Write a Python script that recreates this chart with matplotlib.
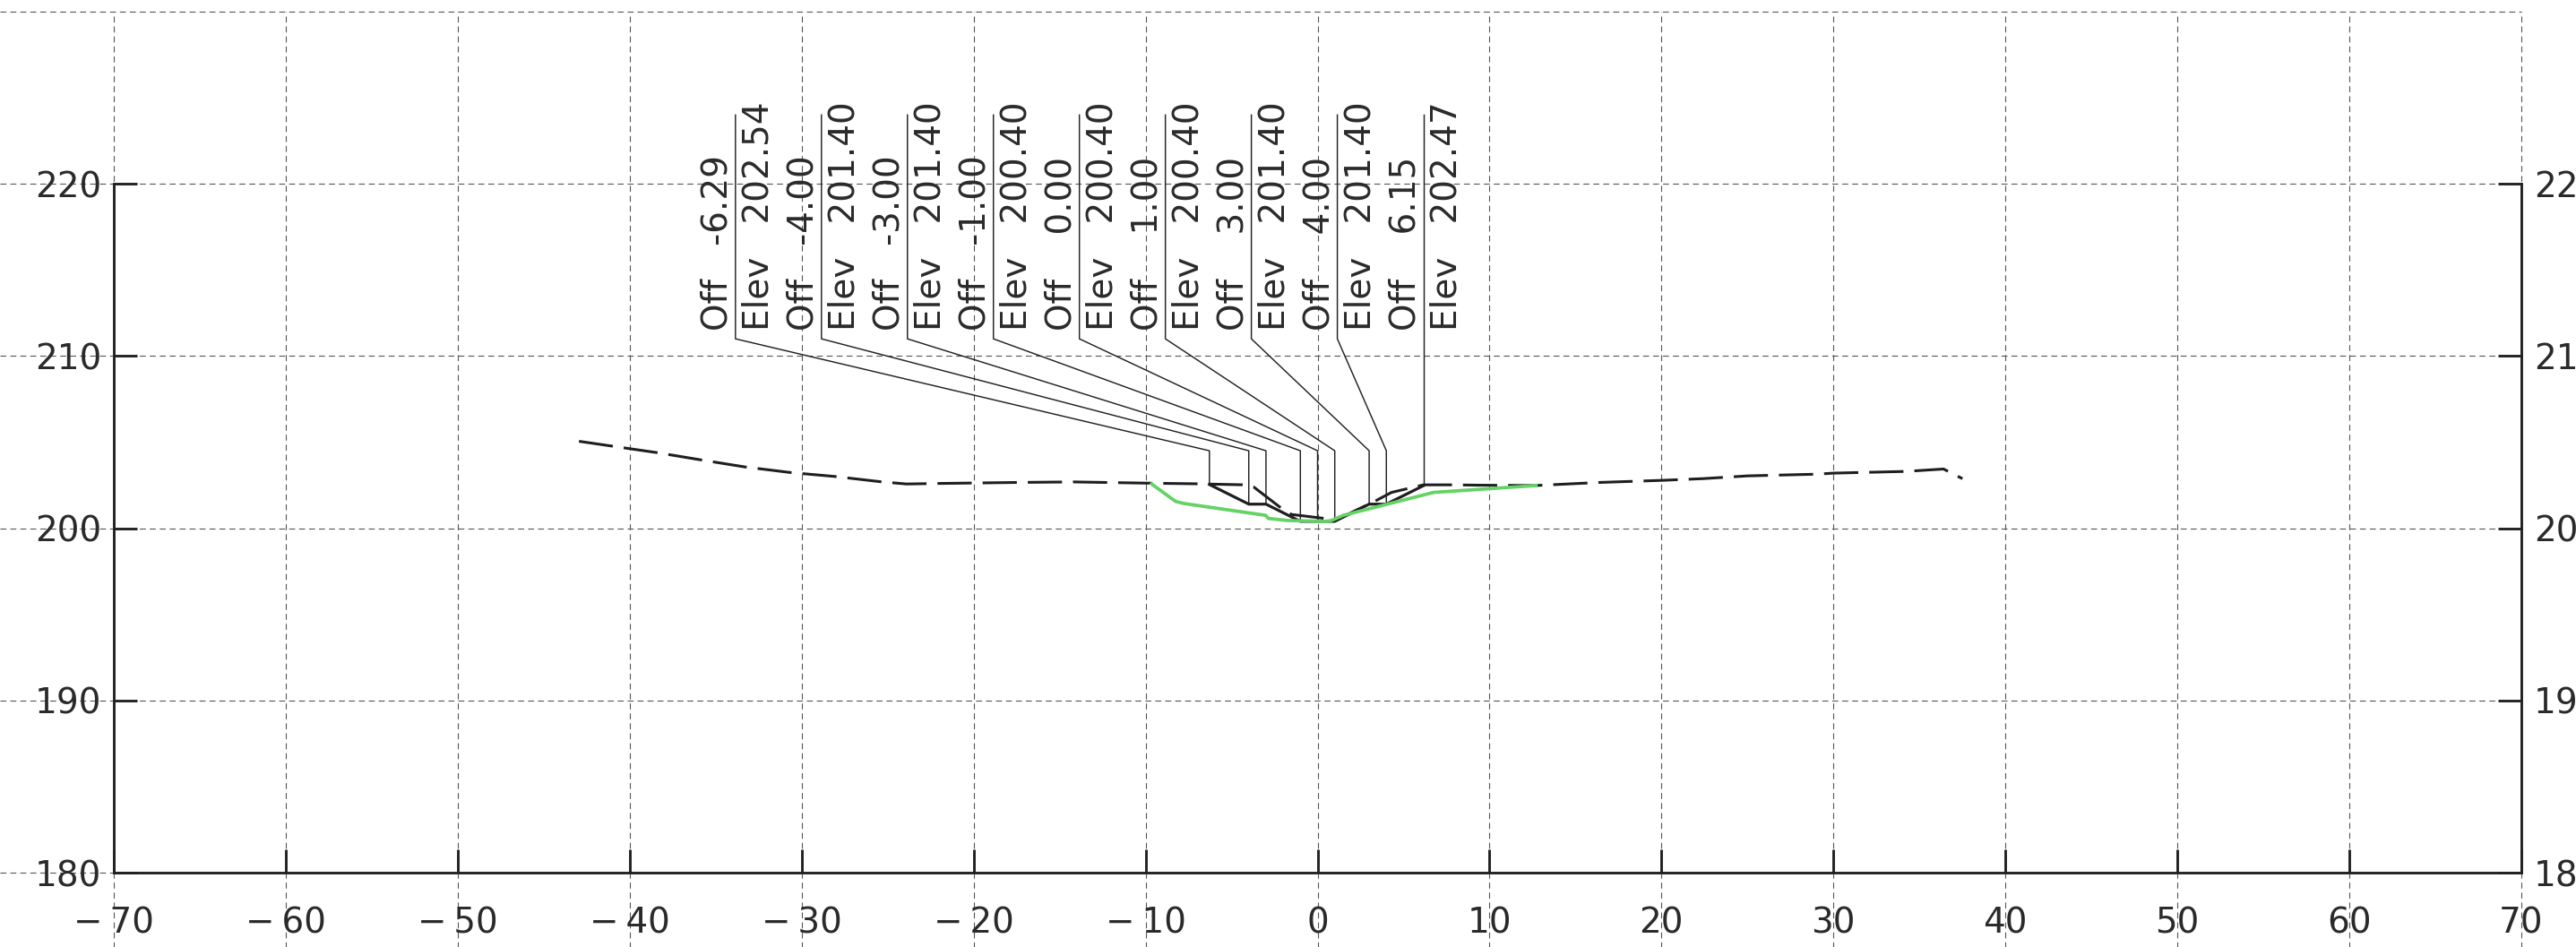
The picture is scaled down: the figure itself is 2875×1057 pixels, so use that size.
import matplotlib
matplotlib.use("Agg")
import matplotlib.pyplot as plt

plt.rcParams['font.family'] = ['DejaVu Sans']

# ---- data ----
offsets = [-6.29, -4.00, -3.00, -1.00, 0.00, 1.00, 3.00, 4.00, 6.15]
elevs = [202.54, 201.40, 201.40, 200.40, 200.40, 200.40, 201.40, 201.40, 202.47]

ground_x = [-42.95, -40.0, -38.4, -35.8, -33.3, -30.6, -28.0, -25.4, -23.9, -22.1,
            -17.4, -14.2, -10.0, -7.0, -4.2, -3.72, -2.09, -1.51, 0.4, 1.2, 3.2,
            4.3, 5.23, 6.16, 7.8, 9.4, 12.67, 16.4, 20.0, 22.4, 25.0, 29.0, 30.0,
            34.2, 36.4, 37.5]
ground_y = [205.05, 204.62, 204.39, 203.96, 203.56, 203.23, 203.0, 202.7, 202.57, 202.6,
            202.66, 202.69, 202.62, 202.58, 202.52, 202.4, 201.15, 200.8, 200.57, 200.55, 201.5,
            202.08, 202.3, 202.52, 202.52, 202.5, 202.48, 202.66, 202.78, 202.88, 203.04, 203.14, 203.2,
            203.3, 203.44, 202.88]

green_x = [-9.65, -8.26, -7.79, -3.02, -2.86, -1.74, 0.47, 0.81, 1.5, 6.74, 12.7]
green_y = [202.57, 201.56, 201.44, 200.75, 200.57, 200.45, 200.4, 200.45, 200.75, 202.08, 202.48]

x_ticks = [-70, -60, -50, -40, -30, -20, -10, 0, 10, 20, 30, 40, 50, 60, 70]
y_ticks = [180, 190, 200, 210, 220]
y_grid = [180, 190, 200, 210, 220, 230]

# ---- figure ----
W, H = 2875, 1057
fig = plt.figure(figsize=(W / 100, H / 100), dpi=100)
ax = fig.add_axes([127 / W, (H - 974) / H, 2687 / W, 961 / H])
ax.set_xlim(-70, 70)
ax.set_ylim(180, 230)

grid_kw = dict(color='#555555', lw=0.8, linestyle=(0, (6, 4)), clip_on=False, zorder=1)
for yv in y_grid:
    ax.axhline(yv, xmin=-127 / 2687, xmax=1.0, **grid_kw)
for xv in x_ticks:
    ax.axvline(xv, ymin=-84 / 961, ymax=1.0, **grid_kw)

# spines
for s in ['left', 'right']:
    ax.spines[s].set_bounds(180, 220)
    ax.spines[s].set_linewidth(2.1)
    ax.spines[s].set_color('#222222')
ax.spines['bottom'].set_linewidth(2.1)
ax.spines['bottom'].set_color('#222222')
ax.spines['top'].set_visible(False)
for s in ax.spines.values():
    s.set_zorder(3)

ax.set_xticks(x_ticks)
ax.set_xticklabels([("\u2212\u2009%d" % abs(v)) if v < 0 else "%d" % v for v in x_ticks])
ax.set_yticks(y_ticks)
ax.set_yticklabels([str(v) for v in y_ticks])
ax.tick_params(axis='x', direction='in', length=19, width=2.1, color='#222222',
               labelsize=28, labelcolor='#2a2a2a', pad=27)
ax.tick_params(axis='y', direction='in', length=19, width=2.1, color='#222222',
               labelsize=28, labelcolor='#2a2a2a', pad=10,
               left=True, right=True, labelleft=True, labelright=True)

# existing ground (dashed)
ax.plot(ground_x, ground_y, color='#1e1e1e', lw=2.2, linestyle=(0, (12.5, 4.0)),
        zorder=4, clip_on=False)
# design template (solid)
ax.plot(offsets, elevs, color='#1e1e1e', lw=2.3, zorder=5, solid_joinstyle='miter')
# green surface
ax.plot(green_x, green_y, color='#64d264', lw=2.7, zorder=6)

# labels with leaders
n = len(offsets)
spacing = 5.0
lead_top, lead_bot, elbow = 224.0, 211.0, 204.5
for i, (o, e) in enumerate(zip(offsets, elevs)):
    lx = offsets[-1] - spacing * (n - 1 - i)
    ax.plot([lx, lx, o, o], [lead_top, lead_bot, elbow, e], color='#222222',
            lw=1.05, zorder=4)
    ax.text(lx - 0.47, lead_bot + 0.5, "Off   %5.2f" % o, rotation=90,
            rotation_mode='anchor', ha='left', va='baseline', fontsize=28,
            color='#2a2a2a', zorder=7)
    ax.text(lx + 1.93, lead_bot + 0.5, "Elev   %6.2f" % e, rotation=90,
            rotation_mode='anchor', ha='left', va='baseline', fontsize=28,
            color='#2a2a2a', zorder=7)

fig.savefig("out.png", dpi=100, facecolor='white')
